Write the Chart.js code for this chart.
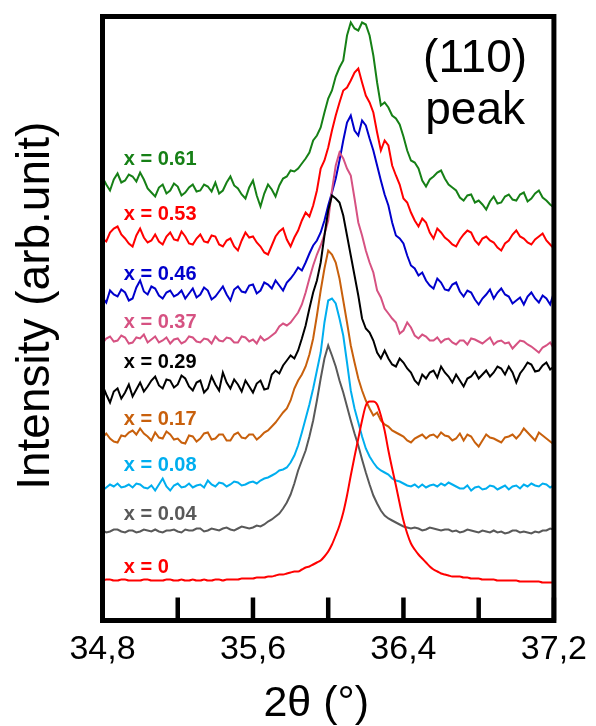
<!DOCTYPE html>
<html>
<head>
<meta charset="utf-8">
<script src="https://cdn.jsdelivr.net/npm/chart.js@4.4.1/dist/chart.umd.min.js"></script>
<style>
  html, body { margin: 0; padding: 0; background: #fff; }
  canvas { display: block; }
</style>
</head>
<body>
<canvas id="c" width="596" height="726"></canvas>
<script>
// 2theta grid (degrees)
const twoTheta = [
34.80,34.82,34.84,34.86,34.88,34.90,34.92,34.94,34.96,34.98,
35.00,35.02,35.04,35.06,35.08,35.10,35.12,35.14,35.16,35.18,
35.20,35.22,35.24,35.26,35.28,35.30,35.32,35.34,35.36,35.38,
35.40,35.42,35.44,35.46,35.48,35.50,35.52,35.54,35.56,35.58,
35.60,35.62,35.64,35.66,35.68,35.70,35.72,35.74,35.76,35.78,
35.80,35.82,35.84,35.86,35.88,35.90,35.92,35.94,35.96,35.98,
36.00,36.02,36.04,36.06,36.08,36.10,36.12,36.14,36.16,36.18,
36.20,36.22,36.24,36.26,36.28,36.30,36.32,36.34,36.36,36.38,
36.40,36.42,36.44,36.46,36.48,36.50,36.52,36.54,36.56,36.58,
36.60,36.62,36.64,36.66,36.68,36.70,36.72,36.74,36.76,36.78,
36.80,36.82,36.84,36.86,36.88,36.90,36.92,36.94,36.96,36.98,
37.00,37.02,37.04,37.06,37.08,37.10,37.12,37.14,37.16,37.18,
37.20];

// Intensity (arb. unit, vertically offset patterns) for each composition
const x061 = [
443,436,430,441,447,438,440,446,444,439,448,441,432,428,424,433,436,427,430,437,
434,425,428,433,436,429,430,436,434,429,438,427,430,438,444,435,432,426,422,433,
440,425,414,427,436,431,424,435,442,444,450,449,452,457,462,468,480,485,493,508,
522,530,544,553,560,585,598,592,590,598,596,585,565,538,515,518,513,505,502,496,
484,470,460,458,452,440,434,441,444,448,450,442,436,433,430,423,420,425,426,418,
420,416,411,419,424,417,418,424,426,421,420,426,428,419,422,427,430,423,420,416,
413];
const x053 = [
382,379,388,392,394,386,382,377,374,385,392,383,378,380,386,379,376,384,388,381,
380,389,384,377,376,382,386,379,378,385,384,376,374,380,382,374,370,380,388,383,
384,378,374,368,366,375,384,389,392,381,374,383,390,400,408,404,415,430,452,460,
473,490,505,518,530,533,540,548,552,538,525,518,508,488,470,480,475,455,445,436,
422,418,408,400,394,402,398,388,382,392,388,383,380,376,374,381,386,390,388,380,
376,382,384,380,378,373,370,377,380,386,390,384,382,378,376,381,384,387,380,376,
372];
const x046 = [
323,318,330,326,324,331,328,320,322,333,340,329,326,334,332,325,322,328,330,324,
326,330,322,327,332,323,326,333,330,321,324,329,334,326,320,331,334,329,328,335,
336,327,330,338,336,332,340,335,330,338,342,347,353,350,358,367,375,380,388,400,
415,428,442,460,480,498,505,490,485,500,495,482,470,455,440,426,415,398,385,382,
377,365,355,352,345,348,340,335,332,342,338,331,330,336,338,329,324,330,328,321,
316,322,326,331,322,328,332,326,324,317,320,323,316,324,328,322,318,325,322,316,
328];
const x037 = [
277,282,284,279,280,285,283,277,278,283,282,286,278,281,284,278,280,283,277,281,
282,277,279,284,283,279,278,282,281,277,284,280,279,283,282,278,278,284,283,279,
281,277,284,280,282,285,288,294,297,295,298,303,308,316,328,342,355,366,375,386,
400,430,455,468,462,452,445,422,398,385,370,358,348,330,323,312,307,302,298,287,
290,298,293,285,282,286,284,280,280,283,278,281,282,278,276,280,280,276,282,281,
279,277,280,283,276,279,280,277,278,272,276,280,279,276,274,271,268,273,275,278,
272];
const x029 = [
235,226,218,229,232,222,228,236,224,231,238,229,234,240,244,235,232,241,240,233,
236,245,242,234,230,238,240,228,232,244,236,230,248,238,232,241,236,229,240,234,
228,237,240,231,232,246,250,247,255,260,265,262,270,282,295,312,328,340,358,385,
410,425,422,418,405,385,365,345,325,302,292,288,280,268,262,270,262,256,254,262,
258,252,248,240,236,246,242,248,250,243,254,248,244,238,246,240,234,242,244,249,
242,246,250,244,248,254,252,246,254,248,238,247,252,258,256,249,250,255,258,251,
254];
const x017 = [
183,187,182,179,178,185,184,188,190,186,192,187,184,180,188,183,182,189,186,181,
182,178,177,185,184,179,182,187,188,181,182,186,186,180,180,186,188,183,182,186,
186,181,184,188,190,194,198,203,208,212,220,232,240,246,254,266,282,305,330,352,
370,366,358,342,320,298,275,258,242,230,220,212,205,208,200,196,194,190,188,186,
184,180,178,182,184,186,182,185,186,183,188,185,184,180,182,187,180,186,184,178,
174,180,186,183,182,180,178,183,184,186,182,186,192,188,184,180,188,185,182,179,
176];
const x008 = [
130,133,136,134,137,133,134,136,133,137,136,133,132,135,130,136,142,134,130,135,
137,133,134,137,133,135,136,133,140,136,134,138,137,134,136,139,138,135,136,138,
139,137,140,142,143,145,147,150,151,153,158,165,175,188,202,216,232,250,268,298,
320,322,317,302,285,258,230,212,198,184,172,164,158,153,150,148,146,142,140,139,
137,135,134,136,133,136,133,135,136,134,137,135,138,136,134,132,132,135,130,133,
134,131,132,135,134,131,133,135,131,134,135,132,136,134,137,135,134,137,136,133,
135];
const x004 = [
90,88,89,91,91,89,88,90,90,88,89,91,90,89,91,89,88,90,90,91,
89,88,91,90,90,92,92,89,90,92,91,90,92,93,91,90,92,94,93,92,
93,95,94,96,99,101,104,107,112,118,126,137,150,160,170,184,200,220,242,262,
275,265,254,240,228,214,200,187,175,161,148,136,125,117,110,105,102,100,98,96,
94,93,92,93,92,90,91,93,92,91,90,91,91,89,90,88,89,91,90,89,
88,90,89,88,90,88,89,87,88,90,90,88,89,88,87,89,88,90,90,92,
91];
const x000 = [
40,41,41,40,40,41,41,40,40,40,40,41,41,40,40,40,40,41,41,40,
40,41,40,40,41,40,40,41,40,40,41,41,40,41,41,41,41,42,42,42,
42,43,43,43,44,44,45,46,46,47,48,49,49,51,53,54,56,58,60,64,
69,76,85,95,108,125,145,164,182,200,215,219,219,216,205,190,170,152,135,117,
100,87,77,71,66,62,58,54,51,49,47,46,45,44,44,44,43,43,42,42,
42,41,41,41,41,40,40,40,40,40,40,39,39,39,39,39,39,38,38,38,
38];

// Series names, colours and x-axis tick labels
const seriesNames  = ['x = 0','x = 0.04','x = 0.08','x = 0.17','x = 0.29','x = 0.37','x = 0.46','x = 0.53','x = 0.61'];
const seriesData   = [x000, x004, x008, x017, x029, x037, x046, x053, x061];
const seriesColors = ['#ff0000','#595959','#00aeef','#c8600c','#000000','#d65282','#0000cc','#ff0000','#168016'];
const tickValues = [34.8, 35.2, 35.6, 36.0, 36.4, 36.8, 37.2];
const tickLabels = ['34,8', '', '35,6', '', '36,4', '', '37,2'];

// Where the series name labels sit (in data units)
const labelX = 34.913;
const labelY = [53, 106, 155, 201, 258.5, 298.5, 346, 406, 461];

seriesData.forEach((a, i) => {
  if (a.length !== twoTheta.length) throw new Error(seriesNames[i] + ' has ' + a.length + ' points');
});

const FONT = "'Liberation Sans', Arial, sans-serif";

const datasets = seriesData.map((arr, i) => ({
  label: seriesNames[i],
  data: arr.map((v, j) => ({ x: twoTheta[j], y: v })),
  borderColor: seriesColors[i],
  borderWidth: 2,
  pointRadius: 0,
  fill: false,
  tension: 0,
  cubicInterpolationMode: i === 0 ? 'monotone' : 'default'
}));

const decorPlugin = {
  id: 'decor',
  afterDatasetsDraw(chart) {
    const { ctx, chartArea: { left, right, top, bottom }, scales: { x, y } } = chart;
    ctx.save();
    ctx.strokeStyle = '#000';
    ctx.lineWidth = 5;
    ctx.strokeRect(left, top, right - left, bottom - top);
    ctx.lineWidth = 4.5;
    ctx.lineCap = 'butt';
    x.ticks.forEach(t => {
      const px = x.getPixelForValue(t.value);
      ctx.beginPath();
      ctx.moveTo(px, bottom);
      ctx.lineTo(px, bottom - 23);
      ctx.stroke();
    });
    ctx.font = 'bold 20px ' + FONT;
    ctx.textAlign = 'left';
    ctx.textBaseline = 'middle';
    seriesNames.forEach((name, i) => {
      ctx.fillStyle = seriesColors[i];
      ctx.fillText(name, x.getPixelForValue(labelX), y.getPixelForValue(labelY[i]));
    });
    ctx.fillStyle = '#000';
    ctx.font = '46px ' + FONT;
    ctx.textAlign = 'center';
    ctx.textBaseline = 'alphabetic';
    ctx.fillText('(110)', x.getPixelForValue(36.781), y.getPixelForValue(548.5));
    ctx.fillText('peak', x.getPixelForValue(36.781), y.getPixelForValue(496.5));
    ctx.restore();
  }
};

new Chart(document.getElementById('c'), {
  type: 'line',
  data: { datasets },
  plugins: [decorPlugin],
  options: {
    responsive: false,
    animation: false,
    devicePixelRatio: 1,
    layout: { padding: { top: 16.5, right: 38.5, left: 0, bottom: 0 } },
    plugins: { legend: { display: false }, tooltip: { enabled: false } },
    scales: {
      x: {
        type: 'linear',
        min: 34.8,
        max: 37.2,
        afterBuildTicks: s => { s.ticks = tickValues.map(v => ({ value: v })); },
        afterFit: s => { s.height = 105.5; },
        ticks: {
          callback: (v, i) => tickLabels[i],
          autoSkip: false,
          maxRotation: 0,
          minRotation: 0,
          padding: 9,
          color: '#000',
          font: { size: 34, family: FONT }
        },
        grid: { display: false, drawTicks: false },
        border: { display: false },
        title: {
          display: true,
          text: '2\u03b8 (\u00b0)\u00a0\u00a0',
          color: '#000',
          font: { size: 43, family: FONT, lineHeight: 1 },
          padding: 0
        }
      },
      y: {
        type: 'linear',
        min: 0,
        max: 604,
        afterFit: s => { s.width = 102.5; },
        ticks: { display: false },
        grid: { display: false, drawTicks: false },
        border: { display: false },
        title: {
          display: true,
          text: '\u00a0\u00a0Intensity (arb.unit)',
          color: '#000',
          font: { size: 46, family: FONT, lineHeight: 1 },
          padding: { top: 13, bottom: 0 }
        }
      }
    }
  }
});
</script>
</body>
</html>
